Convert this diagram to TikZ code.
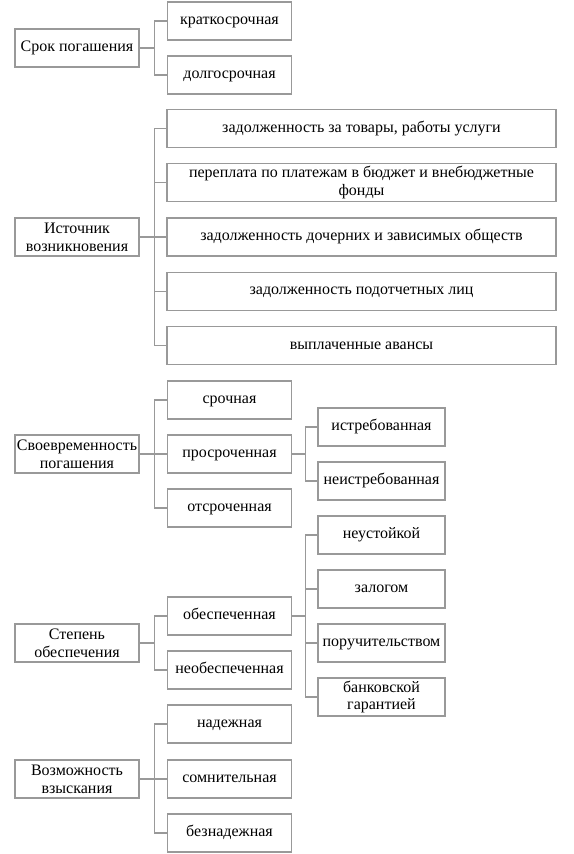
\documentclass[tikz,border=0pt]{standalone}
\usepackage{fontspec}
\setmainfont{Liberation Serif}
\usepackage{tikz}
\usetikzlibrary{positioning}

\tikzset{
	cell/.style={draw=black!40, line width=1.1pt, minimum width=124pt, minimum height=38pt,
		inner sep=1pt, align=center, font=\fontsize{16}{17.7}\selectfont},
	box/.style={cell, text height=10pt, text depth=2.8pt},
	widebox/.style={box, minimum width=389pt},
	subbox/.style={box, minimum width=127pt},
	link/.style={draw=black!40, line width=1.1pt},
}

\begin{document}
\begin{tikzpicture}[x=1pt, y=-1pt]
		\useasboundingbox (0,0) rectangle (573,854);

		% срок погашения
		\node[box] (srok) at (77,48) {Срок погашения};
		\node[box] (kratko) at (229.5,21) {краткосрочная};
		\node[box] (dolgo) at (229.5,75) {долгосрочная};

		% источник возникновения
		\node[cell] (istoch) at (77,237) {Источник\\возникновения};
		\node[widebox] (tovary) at (361.5,128.5) {задолженность за товары, работы услуги};
		\node[cell, minimum width=389pt] (pereplata) at (361.5,182.75) {переплата по платежам в бюджет и внебюджетные\\фонды};
		\node[widebox] (dochern) at (361.5,237) {задолженность дочерних и зависимых обществ};
		\node[widebox] (podotch) at (361.5,291.25) {задолженность подотчетных лиц};
		\node[widebox] (avansy) at (361.5,345.5) {выплаченные авансы};

		% своевременность погашения
		\node[cell] (svoevr) at (77,454) {Своевременность\\погашения};
		\node[box] (sroch) at (229.5,400) {срочная};
		\node[box] (prosroch) at (229.5,454) {просроченная};
		\node[box] (otsroch) at (229.5,508) {отсроченная};
		\node[subbox] (istreb) at (381.5,427) {истребованная};
		\node[subbox] (neistreb) at (381.5,481) {неистребованная};

		% степень обеспечения
		\node[cell] (stepen) at (77,643) {Степень\\обеспечения};
		\node[box] (obesp) at (229.5,616) {обеспеченная};
		\node[box] (neobesp) at (229.5,670) {необеспеченная};
		\node[subbox] (neust) at (381.5,535) {неустойкой};
		\node[subbox] (zalog) at (381.5,589) {залогом};
		\node[subbox] (poruch) at (381.5,643) {поручительством};
		\node[cell, minimum width=127pt] (bank) at (381.5,697) {банковской\\гарантией};

		% возможность взыскания
		\node[cell] (vozm) at (77,779) {Возможность\\взыскания};
		\node[box] (nadezh) at (229.5,724) {надежная};
		\node[box] (somnit) at (229.5,779) {сомнительная};
		\node[box] (beznad) at (229.5,833) {безнадежная};

		% связи
		\foreach \c in {kratko,dolgo}
			\draw[link] (srok.east) -- ++(15,0) |- (\c.west);
		\foreach \c in {tovary,pereplata,dochern,podotch,avansy}
			\draw[link] (istoch.east) -- ++(15,0) |- (\c.west);
		\foreach \c in {sroch,prosroch,otsroch}
			\draw[link] (svoevr.east) -- ++(15,0) |- (\c.west);
		\foreach \c in {istreb,neistreb}
			\draw[link] (prosroch.east) -- ++(13,0) |- (\c.west);
		\foreach \c in {obesp,neobesp}
			\draw[link] (stepen.east) -- ++(15,0) |- (\c.west);
		\foreach \c in {neust,zalog,poruch,bank}
			\draw[link] (obesp.east) -- ++(13,0) |- (\c.west);
		\foreach \c in {nadezh,somnit,beznad}
			\draw[link] (vozm.east) -- ++(15,0) |- (\c.west);
	\end{tikzpicture}
\end{document}
